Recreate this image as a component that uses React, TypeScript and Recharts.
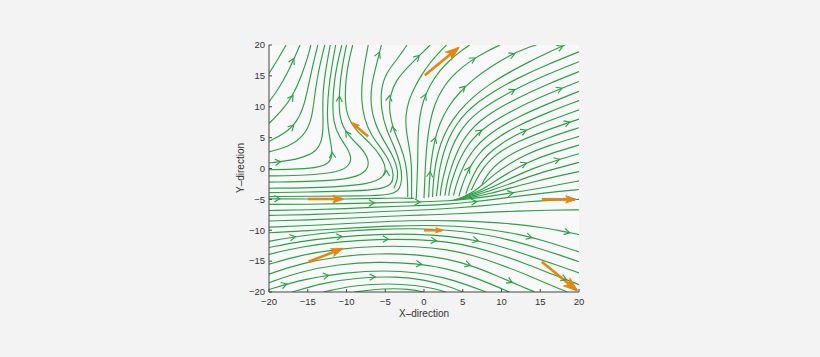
import React from 'react';
import { ComposedChart, Line, Scatter, XAxis, YAxis, CartesianGrid } from 'recharts';

type P = [number, number];

const axisTicks = [-20, -15, -10, -5, 0, 5, 10, 15, 20];

// upper-left family, entering from the left edge
const upperLeftLines: P[][] = [
  [[-20, 15.4], [-19, 17.4], [-17.8, 20]],
  [[-20, 10.8], [-18.8, 12.8], [-17.6, 15.5], [-16.5, 18.5], [-16, 20]],
  [[-20, 7.3], [-18.3, 9.4], [-16.9, 11.8], [-15.8, 15], [-15, 18], [-14.6, 20]],
  [[-20, 4.4], [-18, 5.6], [-16.3, 7.6], [-15.4, 10.5], [-14.9, 13.5], [-14.3, 17], [-13.7, 20]],
  [[-20, 2.7], [-17.5, 3.5], [-15.5, 5.2], [-14.5, 7.8], [-14.2, 11], [-13.8, 14.5], [-13.3, 17.5], [-12.8, 20]],
  [[-20, 0.9], [-18.5, 1.1], [-16, 1.6], [-14, 2.6], [-13.1, 4.5], [-13, 7.5], [-13.1, 11], [-12.9, 14.2], [-12.5, 17.3], [-12.1, 20]],
];

// hairpin lines turning upward
const hairpinLines: P[][] = [
  [[-20, -0.2], [-16, -0.1], [-13.5, 0.2], [-12.2, 0.9], [-11.8, 2.2], [-12, 4], [-12.4, 6.5], [-12.5, 9.5], [-12.3, 13], [-11.9, 16.5], [-11.4, 20]],
  [[-20, -1.2], [-15, -1.1], [-11.5, -0.7], [-9.8, 0.2], [-9.3, 1.5], [-9.8, 3.2], [-11, 5.2], [-11.7, 7.5], [-11.8, 10.5], [-11.6, 14], [-11.2, 17], [-10.6, 20]],
  [[-20, -2.2], [-14, -2.1], [-9.5, -1.7], [-7.6, -0.7], [-7, 0.8], [-7.6, 2.7], [-9.2, 4.6], [-10.6, 6.8], [-11, 9.5], [-10.9, 13], [-10.6, 16.3], [-10, 20]],
  [[-20, -3.2], [-13, -3.1], [-8, -2.7], [-5.5, -1.8], [-4.8, -0.3], [-5.4, 1.8], [-7, 4.2], [-8.7, 6], [-9.9, 8.3], [-10.2, 11], [-10.1, 14.5], [-9.7, 17.5], [-9.2, 20]],
];

// central lines rising from the convergence zone
const centralLines: P[][] = [
  [[-20, -3.9], [-14, -3.8], [-9, -3.65], [-5.6, -3.4], [-4.1, -2.6], [-3.9, -1], [-4.3, 0.9], [-5.4, 3.1], [-6.8, 5.3], [-7.7, 8], [-8.1, 11], [-8, 14.3], [-7.6, 17.3], [-7.2, 20]],
  [[-3.9, -3.2], [-3.5, -2.2], [-3.3, -0.4], [-4, 2.1], [-5.3, 4.7], [-6.4, 7.4], [-6.9, 10.4], [-6.8, 13.5], [-6.2, 16.5], [-5.5, 20]],
  [[-20, -4.55], [-14, -4.5], [-8, -4.45], [-4.4, -4.3], [-3.2, -3.6], [-2.8, -1.8], [-3, 0.6], [-3.8, 3.5], [-4.9, 6.3], [-5.5, 9.4], [-5.6, 12.7], [-4.9, 15.5], [-3.5, 17.6], [-2.2, 20]],
  [[-2.1, -4.6], [-2.1, -2.2], [-2.3, 0.8], [-3, 3.6], [-4, 6.4], [-4.5, 9.2], [-4.4, 11.9], [-3.6, 14.3], [-2.2, 16.3], [-0.6, 18.3], [0.8, 20]],
  [[-1.6, -4.8], [-1.6, -2], [-1.6, 0.8], [-1.9, 3.5], [-2.3, 6], [-2.4, 8.5], [-2, 11], [-1.2, 13.2], [-0.3, 15.2], [0.7, 17], [1.8, 18.6], [2.9, 20]],
  [[-1, -4.9], [-0.9, -2], [-0.8, 1], [-0.8, 4], [-0.7, 7], [-0.4, 9.6], [0.2, 12], [1, 14], [2, 15.8], [3.2, 17.4], [4.5, 18.8], [5.9, 20]],
];

// fan towards the upper right
const fanLines: P[][] = [
  [[0, -4.8], [0.1, -2], [0.2, 1], [0.4, 4.5], [0.8, 7.8], [1.4, 10.5], [2.3, 12.8], [3.5, 14.8], [5, 16.5], [6.6, 17.9], [8, 18.9], [9.8, 20]],
  [[0.6, -4.7], [0.7, -2], [0.9, 1], [1.3, 4.3], [2, 7.3], [3.1, 10], [4.6, 12.4], [6.4, 14.5], [8.5, 16.4], [11, 18.3], [13.2, 19.5], [14.5, 20]],
  [[1.1, -4.6], [1.2, -2], [1.5, 1], [2.1, 4], [3.1, 6.8], [4.5, 9.3], [6.3, 11.6], [8.5, 13.7], [11, 15.6], [13.6, 17.3], [16, 18.8], [18.2, 20]],
  [[1.6, -4.5], [1.8, -2.5], [2, 0], [2.5, 2.5], [3.2, 5], [4.2, 7.2], [5.5, 9.2], [7, 10.8], [9, 12.5], [12, 14.6], [16, 16.9], [20, 18.9]],
  [[2.1, -4.4], [2.2, -3], [2.5, -1.3], [3, 1.2], [3.6, 3.5], [4.5, 5.7], [5.6, 7.6], [7, 9.2], [9, 10.9], [12, 13], [16, 15.3], [20, 17.3]],
  [[2.7, -4.4], [3, -2], [3.5, 0.1], [4.1, 2.2], [4.9, 4.3], [5.9, 6.1], [7.2, 7.7], [9, 9.3], [12, 11.4], [16, 13.7], [20, 15.7]],
  [[3.2, -4.4], [3.3, -3.2], [3.8, -1.2], [4.4, 0.9], [5.2, 2.9], [6.2, 4.7], [7.5, 6.3], [9.2, 7.8], [12, 9.8], [16, 12.1], [20, 14.1]],
  [[3.8, -4.4], [4.2, -2.4], [4.8, -0.4], [5.6, 1.6], [6.6, 3.4], [7.8, 4.9], [9.4, 6.4], [12, 8.3], [16, 10.5], [20, 12.5]],
  [[4.5, -4.5], [4.8, -3.2], [5.3, -1.4], [6, 0.4], [6.9, 2.1], [8, 3.6], [9.6, 5.1], [12, 6.9], [16, 9.1], [20, 11]],
  [[5.4, -4.1], [5.8, -2.7], [6.4, -0.9], [7.2, 0.8], [8.3, 2.4], [9.8, 3.9], [12, 5.6], [16, 7.7], [20, 9.5]],
  [[6.1, -3.5], [6.8, -1.7], [7.6, 0], [8.6, 1.5], [10, 2.9], [12, 4.3], [16, 6.3], [20, 8]],
  [[7.5, -2.5], [8, -1.3], [9, 0.3], [10.4, 1.7], [12.4, 3.1], [16, 5], [20, 6.6]],
  [[5.3, -4.4], [6.5, -3.7], [7.6, -2.6], [9, -1], [10.8, 0.6], [13, 2.2], [16, 3.7], [20, 5.2]],
  [[5, -4.6], [6, -4.2], [7.4, -3.5], [9, -2.2], [11, -0.6], [13.5, 1.1], [16.5, 2.5], [20, 3.8]],
  [[4.6, -4.8], [5.5, -4.5], [7.2, -3.9], [9.2, -2.8], [11.5, -1.4], [14, 0], [17, 1.3], [20, 2.4]],
  [[4.2, -4.95], [5.2, -4.75], [6.8, -4.3], [9, -3.4], [11.5, -2.3], [14, -1.1], [17, 0], [20, 1]],
  [[3.8, -5.1], [4.8, -4.95], [6.4, -4.65], [8.5, -4.05], [11, -3.2], [14, -2.2], [17, -1.3], [20, -0.5]],
];

// middle band, left to right
const bandLines: P[][] = [
  [[-20, -4.9], [-15, -4.95], [-10, -4.95], [-6, -4.85], [-3, -4.75], [-1.3, -4.85]],
  [[-20, -5.8], [-15, -5.8], [-10, -5.7], [-6, -5.55], [-3, -5.45], [0, -5.4], [3, -5.25], [6, -4.9], [9, -4.4], [12, -3.8], [15, -3.2], [17.5, -2.6], [20, -2]],
  [[-20, -6.8], [-15, -6.7], [-10, -6.5], [-6, -6.25], [-3, -6.1], [0, -6], [3, -5.8], [6, -5.45], [9, -5], [12, -4.5], [15, -4.05], [17.5, -3.7], [20, -3.4]],
  [[-20, -7.6], [-14, -7.45], [-9, -7.2], [-5, -6.95], [-2, -6.8], [1, -6.65], [4, -6.4], [7, -6.1], [10, -5.75], [13, -5.4], [16, -5.15], [20, -5]],
  [[-20, -8.5], [-14, -8.3], [-9, -8], [-5, -7.75], [-2, -7.6], [1, -7.5], [4, -7.35], [8, -7.1], [12, -6.9], [16, -6.75], [20, -6.7]],
  [[-20, -9.5], [-14, -9.2], [-9, -8.85], [-5, -8.6], [-2, -8.45], [1, -8.4], [4, -8.45], [8, -8.65], [12, -9], [15.5, -9.6], [18, -10.2], [20, -10.7]],
  [[-20, -10.4], [-14, -10], [-9, -9.6], [-4, -9.3], [0, -9.2], [4, -9.3], [8, -9.75], [12.5, -10.7], [15.5, -11.7], [18, -12.7], [20, -13.5]],
];

// lower arcs
const lowerLines: P[][] = [
  [[-20, -11.8], [-16, -10.9], [-11, -10.2], [-6, -9.8], [-1, -9.7], [3, -9.95], [7, -10.5], [11, -11.5], [14.5, -12.8], [17.5, -14], [20, -15.1]],
  [[-20, -12.8], [-16, -11.8], [-11, -11.05], [-6, -10.65], [-1, -10.6], [3, -10.9], [7, -11.7], [10.5, -12.8], [14, -14.3], [17, -15.6], [20, -16.9]],
  [[-20, -13.9], [-16, -12.7], [-11, -11.85], [-6, -11.45], [-1, -11.45], [3, -11.85], [6.5, -12.7], [10, -14], [13.5, -15.6], [16.5, -17.1], [20, -18.8]],
  [[-20, -15.5], [-16, -14.05], [-11, -13], [-6, -12.55], [-1, -12.6], [3, -13.1], [6.5, -14.1], [9.8, -15.5], [13, -17.1], [16, -18.7], [18.5, -20]],
  [[-20, -17.1], [-16, -15.4], [-11, -14.2], [-6, -13.75], [-1, -13.9], [3, -14.6], [6.3, -15.8], [9.3, -17.3], [12.2, -18.9], [14.3, -20]],
  [[-20, -18.5], [-16, -16.7], [-11, -15.5], [-6, -15.1], [-1, -15.35], [3, -16.2], [6, -17.4], [8.8, -18.8], [11, -20]],
  [[-20, -19.6], [-15.5, -17.9], [-10, -16.8], [-5, -16.5], [-1, -16.8], [2.5, -17.6], [5.5, -18.8], [8, -20]],
  [[-17, -20], [-13, -18.5], [-8, -17.6], [-3.5, -17.5], [0, -18], [3, -19], [5, -20]],
  [[-13, -20], [-9, -18.9], [-4.5, -18.6], [-1, -18.9], [1.5, -19.5], [2.8, -20]],
  [[-9, -20], [-5, -19.4], [-2, -19.5], [0, -20]],
];

// green arrowheads: x, y, dx, dy
const flowArrows: [number, number, number, number][] = [
  [-16.8, 17.8, 0.4, 1], [-16.9, 11.8, 0.55, 1], [-16.8, 7.0, 0.85, 1], [-18.5, 1.1, 1, 0.15],
  [-11.85, 2.6, -0.05, 1], [-10.1, 6, -0.55, 1], [-10.9, 11.7, 0.05, 1], [-4.85, -0.3, 0, 1],
  [-4.1, 6.8, -0.2, 1], [-4.45, 11.8, 0.1, 1], [-5.74, 18.8, 0.35, 1], [0.2, 12, 0.35, 1],
  [-0.6, 18.3, 0.85, 1], [1.46, 5, 0.25, 1], [0.8, -0.5, 0.08, 1], [6.6, 17.9, 1, 0.75],
  [11.7, 18.6, 1, 0.55], [17.9, 19.8, 1, 0.55], [5.3, 13.3, 1, 1.2], [11.7, 12.8, 1, 0.7],
  [17.8, 13.0, 1, 0.5], [7.4, 6.2, 1, 0.95], [13.2, 6.2, 1, 0.52], [18.8, 7.5, 1, 0.42],
  [5.9, 0.2, 0.5, 1], [13.2, 0.9, 1, 0.55], [17.5, 1.5, 1, 0.37], [11.5, -3.95, 1, 0.2],
  [-0.5, -5.41, 1, 0.02], [-6.4, -5.56, 1, 0.03], [-18.6, -4.9, 1, 0], [6.8, -5.35, 1, 0.13],
  [-16.6, -11.05, 1, 0.22], [-10.6, -11.0, 1, 0.12], [-4.6, -11.4, 1, 0.02], [1.6, -11.7, 1, -0.1],
  [7, -11.7, 1, -0.25], [13.9, -11.2, 1, -0.35], [18.8, -10.4, 1, -0.28], [-0.3, -15.5, 1, -0.1],
  [6, -15.7, 1, -0.38], [11.4, -18.45, 1, -0.55], [18.4, -18.0, 1, -0.5], [-17.7, -18.7, 1, 0.38],
  [-12.3, -17.3, 1, 0.2], [-6.3, -17.55, 1, 0.05],
];

// orange quiver arrows: tail x, tail y, head x, head y
const quiverArrows: [number, number, number, number][] = [
  [-15, -4.95, -10.5, -4.95],
  [-14.9, -15.1, -10.6, -13.0],
  [-7.2, 5.2, -9.2, 7.3],
  [0.1, 15.1, 4.4, 19.5],
  [0, -10.0, 2.3, -10.0],
  [15.2, -5.0, 19.5, -5.0],
  [15.2, -15.1, 19.7, -19.7],
];

const W = 820;
const H = 357;
const PLOT_W = 310;
const PLOT_H = 247;
const KX = PLOT_W / 40;
const KY = PLOT_H / 40;
const GREEN = '#2ca048';
const ORANGE = '#e8850f';
const FONT = '"Liberation Sans", Arial, Helvetica, sans-serif';

const allLines: P[][] = [
  ...upperLeftLines, ...hairpinLines, ...centralLines, ...fanLines, ...bandLines, ...lowerLines,
];

const arrowData = flowArrows.map(([x, y, dx, dy]) => ({ x, y, dx, dy }));

const fmt = (v: number) => (v < 0 ? '\u2212' + Math.abs(v) : String(v));

const Chevron = (props: any) => {
  const { cx, cy, payload } = props;
  if (cx == null || cy == null) return <g />;
  const a = (Math.atan2(-payload.dy * KY, payload.dx * KX) * 180) / Math.PI;
  return (
    <path
      d="M -5.5 -3.2 L 0 0 L -5.5 3.2"
      transform={`translate(${cx},${cy}) rotate(${a})`}
      fill="none"
      stroke={GREEN}
      strokeWidth={1.15}
    />
  );
};

const makeHead = (q: [number, number, number, number]) => (props: any) => {
  const { cx, cy, index } = props;
  if (index !== 1 || cx == null) return <g key={`h${index}`} />;
  const px = (q[2] - q[0]) * KX;
  const py = -(q[3] - q[1]) * KY;
  const L = Math.hypot(px, py);
  const a = (Math.atan2(py, px) * 180) / Math.PI;
  const h = Math.max(6, 0.28 * L);
  const w = Math.max(2.5, 0.11 * L);
  return (
    <path
      key={`h${index}`}
      d={`M 1 0 L ${-h} ${-w} L ${-h * 0.75} 0 L ${-h} ${w} Z`}
      transform={`translate(${cx},${cy}) rotate(${a})`}
      fill={ORANGE}
      stroke={ORANGE}
      strokeWidth={1}
    />
  );
};

export default function App() {
  return (
    <div style={{ position: 'absolute', left: 0, top: 0, width: W, height: H, background: '#f3f3f3' }}>
      <ComposedChart width={W} height={H} margin={{ top: 45, right: 241, bottom: 0, left: 0 }}>
        <CartesianGrid horizontal={false} vertical={false} fill="#f9f9f9" stroke="none" />
        <XAxis
          type="number"
          dataKey="x"
          domain={[-20, 20]}
          ticks={axisTicks}
          interval={0}
          allowDataOverflow
          height={65}
          tickSize={-3}
          tickMargin={9}
          tickFormatter={fmt}
          tick={{ fill: '#333', fontSize: 9.5, fontFamily: FONT }}
          axisLine={{ stroke: '#444', strokeWidth: 1 }}
          tickLine={{ stroke: '#444', strokeWidth: 1 }}
        />
        <YAxis
          type="number"
          dataKey="y"
          domain={[-20, 20]}
          ticks={axisTicks}
          interval={0}
          allowDataOverflow
          width={269}
          tickSize={-3}
          tickMargin={7}
          tickFormatter={fmt}
          tick={{ fill: '#333', fontSize: 9.5, fontFamily: FONT }}
          axisLine={{ stroke: '#444', strokeWidth: 1 }}
          tickLine={{ stroke: '#444', strokeWidth: 1 }}
        />
        {allLines.map((pts, i) => (
          <Line
            key={`s${i}`}
            data={pts.map(([x, y]) => ({ x, y }))}
            dataKey="y"
            type="basis"
            stroke={GREEN}
            strokeWidth={1.15}
            dot={false}
            activeDot={false}
            isAnimationActive={false}
            legendType="none"
          />
        ))}
        <Scatter data={arrowData} dataKey="y" shape={Chevron} isAnimationActive={false} legendType="none" />
        {quiverArrows.map((q, i) => (
          <Line
            key={`q${i}`}
            data={[{ x: q[0], y: q[1] }, { x: q[2], y: q[3] }]}
            dataKey="y"
            type="linear"
            stroke={ORANGE}
            strokeWidth={2.6}
            dot={makeHead(q)}
            activeDot={false}
            isAnimationActive={false}
            legendType="none"
          />
        ))}
      </ComposedChart>
      <div
        style={{
          position: 'absolute', left: 424, top: 313, transform: 'translate(-50%,-50%)',
          fontSize: 10, fontFamily: FONT, color: '#333', whiteSpace: 'nowrap',
        }}
      >
        X–direction
      </div>
      <div
        style={{
          position: 'absolute', left: 240, top: 168, transform: 'translate(-50%,-50%) rotate(-90deg)',
          fontSize: 10, fontFamily: FONT, color: '#333', whiteSpace: 'nowrap',
        }}
      >
        Y–direction
      </div>
    </div>
  );
}
